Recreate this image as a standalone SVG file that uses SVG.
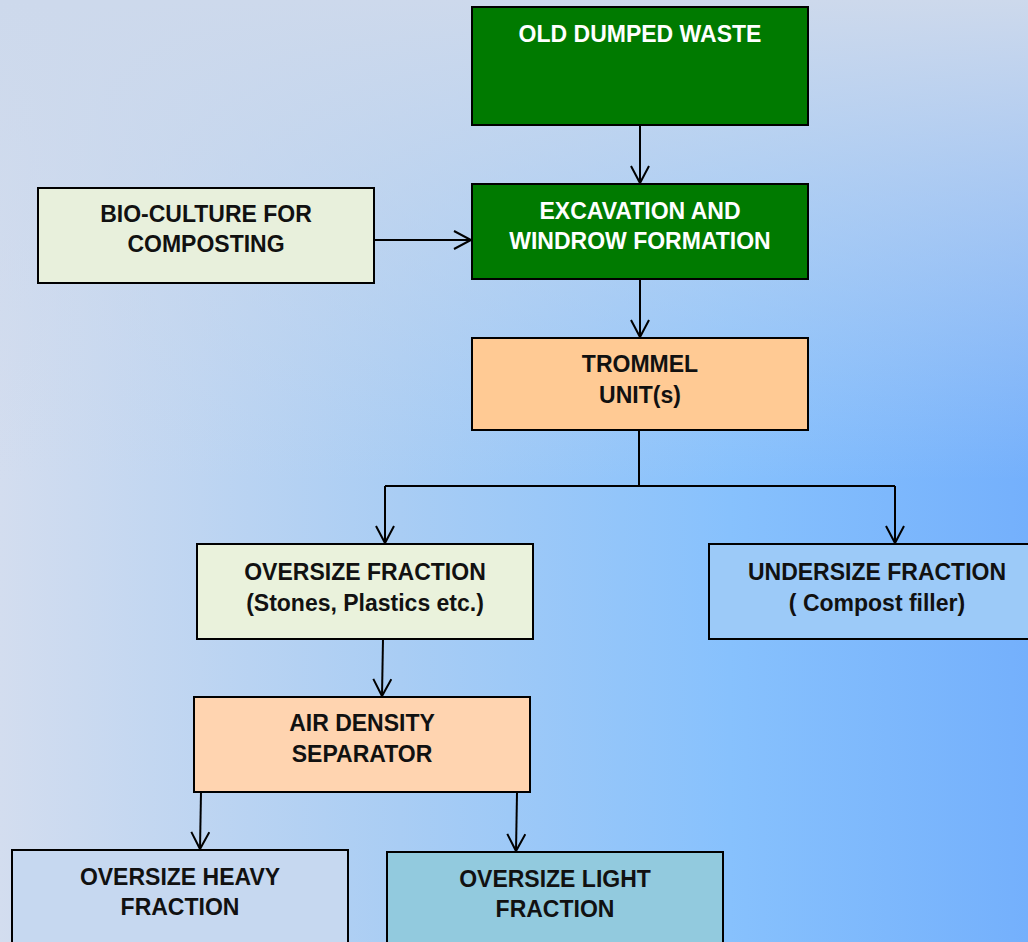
<svg xmlns="http://www.w3.org/2000/svg" width="1028" height="942" viewBox="0 0 1028 942">
<defs>
<linearGradient id="bg" x1="0" y1="0" x2="1028" y2="0" gradientUnits="userSpaceOnUse">
<stop offset="0" stop-color="#d3ddef"/>
<stop offset="0.39" stop-color="#a9cdf4"/>
<stop offset="0.71" stop-color="#87c1fd"/>
<stop offset="1" stop-color="#74b0fc"/>
</linearGradient>
<linearGradient id="top" x1="0" y1="0" x2="0" y2="480" gradientUnits="userSpaceOnUse">
<stop offset="0" stop-color="#cdd9ec" stop-opacity="1"/>
<stop offset="0.38" stop-color="#cdd9ec" stop-opacity="0.6"/>
<stop offset="1" stop-color="#cdd9ec" stop-opacity="0"/>
</linearGradient>
<marker id="arr" markerWidth="24" markerHeight="24" refX="20" refY="10" orient="auto" markerUnits="userSpaceOnUse">
<path d="M3,1 L20,10 L3,19" fill="none" stroke="#000" stroke-width="2"/>
</marker>
</defs>
<style>
.box{stroke:#000;stroke-width:2}
.t{font-family:"Liberation Sans",Arial,sans-serif;font-weight:bold;font-size:23px;text-anchor:middle;fill:#111}
.w{fill:#fff}
.c{fill:none;stroke:#000;stroke-width:2}
</style>
<rect width="1028" height="942" fill="url(#bg)"/>
<rect width="1028" height="480" fill="url(#top)"/>
<g id="connectors">
<path class="c" d="M640,125 V183" marker-end="url(#arr)"/>
<path class="c" d="M375,240 H471" marker-end="url(#arr)"/>
<path class="c" d="M640,279 V337" marker-end="url(#arr)"/>
<path class="c" d="M639,430 V486"/>
<path class="c" d="M385,486 H895"/>
<path class="c" d="M385,486 V543" marker-end="url(#arr)"/>
<path class="c" d="M895,486 V543" marker-end="url(#arr)"/>
<path class="c" d="M383,639 L382,696" marker-end="url(#arr)"/>
<path class="c" d="M201,792 L200,849" marker-end="url(#arr)"/>
<path class="c" d="M517,793 L516,851" marker-end="url(#arr)"/>
</g>
<g id="old-dumped-waste">
<rect class="box" x="472" y="7" width="336" height="118" fill="#007a00"/>
<text class="t w" x="640" y="42">OLD DUMPED WASTE</text>
</g>
<g id="excavation">
<rect class="box" x="472" y="184" width="336" height="95" fill="#007a00"/>
<text class="t w" x="640" y="219">EXCAVATION AND</text>
<text class="t w" x="640" y="249">WINDROW FORMATION</text>
</g>
<g id="bio-culture">
<rect class="box" x="38" y="188" width="336" height="95" fill="#e8f0dc"/>
<text class="t" x="206" y="222">BIO-CULTURE FOR</text>
<text class="t" x="206" y="252">COMPOSTING</text>
</g>
<g id="trommel">
<rect class="box" x="472" y="338" width="336" height="92" fill="#ffca94"/>
<text class="t" x="640" y="372">TROMMEL</text>
<text class="t" x="640" y="403">UNIT(s)</text>
</g>
<g id="oversize-fraction">
<rect class="box" x="197" y="544" width="336" height="95" fill="#eaf2dc"/>
<text class="t" x="365" y="580">OVERSIZE FRACTION</text>
<text class="t" x="365" y="611">(Stones, Plastics etc.)</text>
</g>
<g id="undersize-fraction">
<rect class="box" x="709" y="544" width="340" height="95" fill="#9ccaf8"/>
<text class="t" x="877" y="580">UNDERSIZE FRACTION</text>
<text class="t" x="877" y="611">( Compost filler)</text>
</g>
<g id="air-density-separator">
<rect class="box" x="194" y="697" width="336" height="95" fill="#ffd4b0"/>
<text class="t" x="362" y="731">AIR DENSITY</text>
<text class="t" x="362" y="762">SEPARATOR</text>
</g>
<g id="oversize-heavy">
<rect class="box" x="12" y="850" width="336" height="110" fill="#c6d8f0"/>
<text class="t" x="180" y="885">OVERSIZE HEAVY</text>
<text class="t" x="180" y="915">FRACTION</text>
</g>
<g id="oversize-light">
<rect class="box" x="387" y="852" width="336" height="110" fill="#92cade"/>
<text class="t" x="555" y="887">OVERSIZE LIGHT</text>
<text class="t" x="555" y="917">FRACTION</text>
</g>
</svg>
